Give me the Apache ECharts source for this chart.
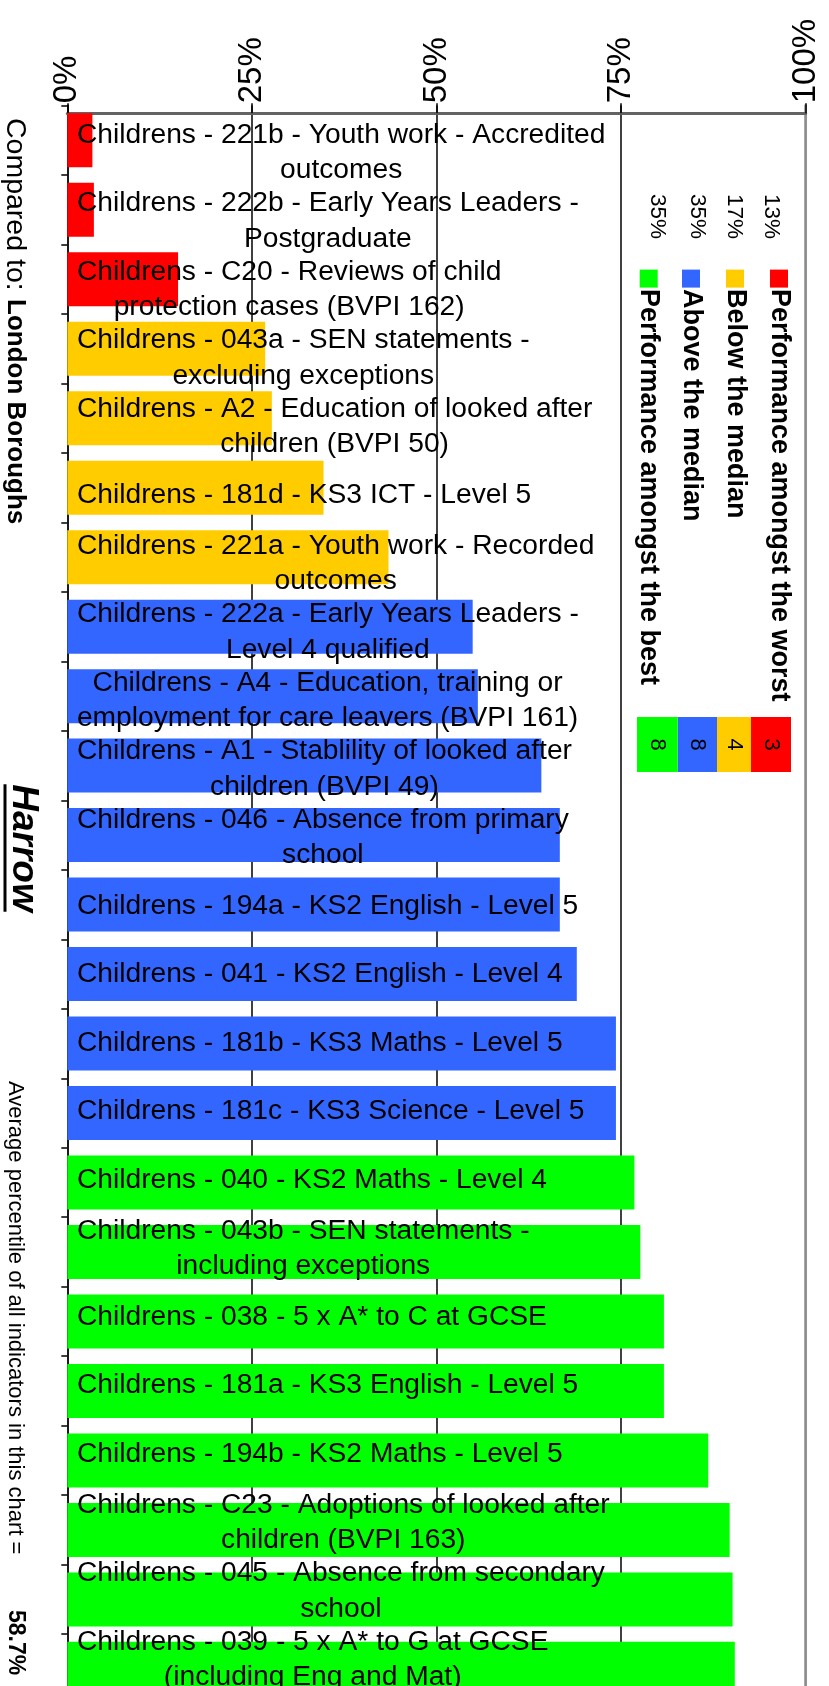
<!DOCTYPE html>
<html>
<head>
<meta charset="utf-8">
<script src="https://cdn.jsdelivr.net/npm/echarts@6/dist/echarts.min.js"></script>
<style>
html,body{margin:0;padding:0;background:#fff;}
#c{width:829px;height:1686px;}
</style>
</head>
<body>
<div id="c"></div>
<script>
// ---------------- DATA ----------------
const categories = [
  'Childrens - 221b - Youth work - Accredited\noutcomes',
  'Childrens - 222b - Early Years Leaders -\nPostgraduate',
  'Childrens - C20 - Reviews of child\nprotection cases (BVPI 162)',
  'Childrens - 043a - SEN statements -\nexcluding exceptions',
  'Childrens - A2 - Education of looked after\nchildren (BVPI 50)',
  'Childrens - 181d - KS3 ICT - Level 5',
  'Childrens - 221a - Youth work - Recorded\noutcomes',
  'Childrens - 222a - Early Years Leaders -\nLevel 4 qualified',
  'Childrens - A4 - Education, training or\nemployment for care leavers (BVPI 161)',
  'Childrens - A1 - Stablility of looked after\nchildren (BVPI 49)',
  'Childrens - 046 - Absence from primary\nschool',
  'Childrens - 194a - KS2 English - Level 5',
  'Childrens - 041 - KS2 English - Level 4',
  'Childrens - 181b - KS3 Maths - Level 5',
  'Childrens - 181c - KS3 Science - Level 5',
  'Childrens - 040 - KS2 Maths - Level 4',
  'Childrens - 043b - SEN statements -\nincluding exceptions',
  'Childrens - 038 - 5 x A* to C at GCSE',
  'Childrens - 181a - KS3 English - Level 5',
  'Childrens - 194b - KS2 Maths - Level 5',
  'Childrens - C23 - Adoptions of looked after\nchildren (BVPI 163)',
  'Childrens - 045 - Absence from secondary\nschool',
  'Childrens - 039 - 5 x A* to G at GCSE\n(including Eng and Mat)'
];
const percentiles = [3.4, 3.6, 15.0, 26.8, 27.7, 34.7, 43.5, 54.9, 55.6, 64.2, 66.7, 66.7, 69.0, 74.3, 74.3, 76.8, 77.6, 80.8, 80.8, 86.8, 89.7, 90.1, 90.4];
const groupOfBar = [0,0,0,1,1,1,1,2,2,2,2,2,2,2,2,3,3,3,3,3,3,3,3];
const groupNames = ['Performance amongst the worst','Below the median','Above the median','Performance amongst the best'];
const axisTicks = [0, 25, 50, 75, 100];
const titleText = 'Harrow';
const comparedLabel = 'Compared to:';
const comparedName = 'London Boroughs';
const averageLabel = 'Average percentile of all indicators in this chart =';
const averageValue = '58.7%';

// ---------------- STYLE / LAYOUT ----------------
const groupColors = ['#FF0000', '#FFCC00', '#3366FF', '#00FF00'];
const FONT = '"Liberation Sans", Arial, Helvetica, sans-serif';
const AXIS_Y = 113.3;
const BAND = 69.48;
const BAR_W = 54;
const GRID_TOP = AXIS_Y - (BAND - BAR_W) / 2;
const GRID_LEFT = 67.3;
const GRID_RIGHT_X = 805.7;
const LABEL_FS = 28.2;
const LABEL_LH = 35.5;
const LABEL_C0 = 152.5;   // centre of first label block
const LABEL_STEP = 68.5;  // label block spacing

const ctx = document.createElement('canvas').getContext('2d');
ctx.font = LABEL_FS + 'px ' + FONT;
const labelWidths = categories.map(c => Math.max.apply(null, c.split('\n').map(l => ctx.measureText(l).width)));

const counts = groupNames.map((_, g) => groupOfBar.filter(x => x === g).length);
const total = groupOfBar.length;

const seriesData = percentiles.map((v, i) => ({
  value: v,
  itemStyle: { color: groupColors[groupOfBar[i]] },
  label: { position: [9.6 + labelWidths[i] / 2, (LABEL_C0 + LABEL_STEP * i) - (AXIS_Y + BAND * i)] }
}));

// ---------------- GRAPHICS (legend, titles) ----------------
const graphics = [];
const rot = -Math.PI / 2;
// title
ctx.font = 'italic bold 37px ' + FONT;
const titleW = ctx.measureText(titleText).width;
const titleCY = 848;
graphics.push({ type: 'text', x: 23.5, y: titleCY, rotation: rot,
  style: { text: titleText, font: 'italic bold 37px ' + FONT, fill: '#000', align: 'center', verticalAlign: 'middle' } });
graphics.push({ type: 'rect', shape: { x: 3.5, y: titleCY - titleW / 2, width: 3, height: titleW }, style: { fill: '#000' } });
// compared to
graphics.push({ type: 'text', x: 15, y: 118, rotation: rot,
  style: { text: comparedLabel, font: '28.5px ' + FONT, fill: '#000', align: 'left', verticalAlign: 'middle' } });
graphics.push({ type: 'text', x: 15, y: 299, rotation: rot,
  style: { text: comparedName, font: 'bold 26px ' + FONT, fill: '#000', align: 'left', verticalAlign: 'middle' } });
// average
graphics.push({ type: 'text', x: 15.5, y: 1081, rotation: rot,
  style: { text: averageLabel, font: '22px ' + FONT, fill: '#000', align: 'left', verticalAlign: 'middle' } });
graphics.push({ type: 'text', x: 15.5, y: 1610, rotation: rot,
  style: { text: averageValue, font: 'bold 23px ' + FONT, fill: '#000', align: 'left', verticalAlign: 'middle' } });
// legend
const legendCols = [779, 735, 691, 648.7];
const boxEdges = [637, 677.7, 717, 751, 791];
groupNames.forEach((name, g) => {
  const cx = legendCols[g];
  graphics.push({ type: 'rect', shape: { x: cx - 9, y: 269.6, width: 18, height: 18 }, style: { fill: groupColors[g] } });
  graphics.push({ type: 'text', x: cx, y: 289, rotation: rot,
    style: { text: name, font: 'bold 27px ' + FONT, fill: '#000', align: 'left', verticalAlign: 'middle' } });
  const bx0 = boxEdges[3 - g], bx1 = boxEdges[4 - g];
  const bc = (bx0 + bx1) / 2;
  graphics.push({ type: 'text', x: bc, y: 194, rotation: rot,
    style: { text: Math.round(counts[g] / total * 100) + '%', font: '22.5px ' + FONT, fill: '#000', align: 'left', verticalAlign: 'middle' } });
  graphics.push({ type: 'rect', shape: { x: bx0, y: 717, width: bx1 - bx0, height: 55 }, style: { fill: groupColors[g] } });
  graphics.push({ type: 'text', x: bc, y: 744.5, rotation: rot,
    style: { text: String(counts[g]), font: '22px ' + FONT, fill: '#000', align: 'center', verticalAlign: 'middle' } });
});

// ---------------- CHART ----------------
const chart = echarts.init(document.getElementById('c'), null, { renderer: 'canvas' });
chart.setOption({
  animation: false,
  backgroundColor: '#fff',
  grid: {
    left: GRID_LEFT,
    top: GRID_TOP,
    width: GRID_RIGHT_X - GRID_LEFT,
    height: BAND * categories.length,
    containLabel: false,
    outerBoundsMode: 'none'
  },
  xAxis: {
    type: 'value',
    position: 'top',
    min: axisTicks[0],
    max: axisTicks[axisTicks.length - 1],
    interval: axisTicks[1] - axisTicks[0],
    offset: -(AXIS_Y - GRID_TOP),
    axisLine: { show: true, onZero: false, lineStyle: { color: '#636363', width: 3 } },
    axisTick: { show: true, length: 10, lineStyle: { color: '#000', width: 1.5 } },
    axisLabel: {
      rotate: -90, margin: 10, fontSize: 33, color: '#000', fontFamily: FONT,
      formatter: v => v + '%'
    },
    splitLine: { show: true, lineStyle: { color: ['#000', '#000', '#000', '#000', '#8c8c8c'], width: 1.5 } }
  },
  yAxis: [{
    type: 'category',
    data: categories,
    inverse: true,
    axisLabel: { show: false },
    axisTick: { show: true, length: 6, lineStyle: { color: '#000', width: 1.5 } },
    axisLine: { show: true, onZero: false, lineStyle: { color: '#1a1a1a', width: 2 } },
    splitLine: { show: false }
  }, {
    type: 'category',
    data: categories,
    inverse: true,
    position: 'right',
    axisLabel: { show: false },
    axisTick: { show: false },
    axisLine: { show: true, onZero: false, lineStyle: { color: '#8c8c8c', width: 2.5 } },
    splitLine: { show: false }
  }],
  series: [{
    type: 'bar',
    yAxisIndex: 0,
    barWidth: BAR_W,
    data: seriesData,
    label: {
      show: true,
      formatter: '{b}',
      align: 'center',
      verticalAlign: 'middle',
      fontSize: LABEL_FS,
      lineHeight: LABEL_LH,
      color: '#000',
      fontFamily: FONT
    }
  }],
  graphic: graphics
});
</script>
</body>
</html>
